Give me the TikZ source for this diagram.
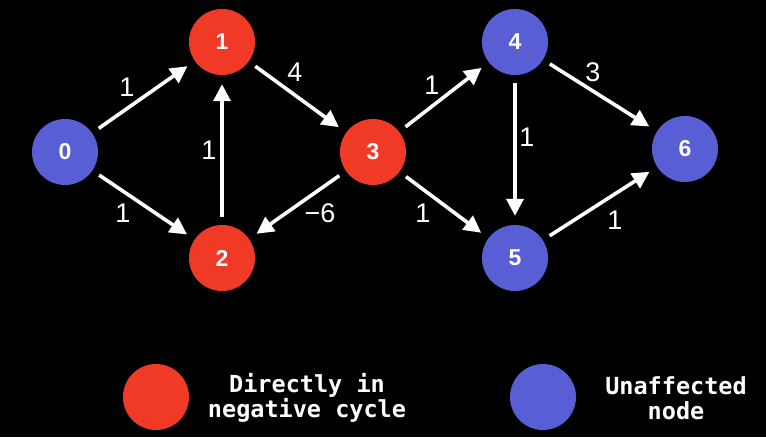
\documentclass[tikz,border=0pt]{standalone}
\usepackage{fontspec}
\setmainfont{Liberation Sans}
\newfontfamily\monob{DejaVu Sans Mono}
\usetikzlibrary{arrows.meta}
\definecolor{nred}{RGB}{240,58,38}
\definecolor{nblue}{RGB}{88,94,212}
\begin{document}
\begin{tikzpicture}[x=1pt,y=-1pt,
  vert/.style={circle,minimum size=66pt,inner sep=0pt,text=white,font=\fontsize{23}{23}\selectfont\bfseries},
  rednode/.style={vert,fill=nred},
  bluenode/.style={vert,fill=nblue},
  edge/.style={draw=white,line width=3.6pt,-{Triangle[length=17pt,width=17pt]},shorten <=8pt,shorten >=9pt},
  wlab/.style={text=white,font=\fontsize{27}{27}\selectfont,inner sep=0pt},
  legtext/.style={text=white,font=\monob\bfseries\fontsize{23.5}{25}\selectfont,align=center,inner sep=0pt}]
\fill[black] (0,0) rectangle (766,437);
\useasboundingbox (0,0) rectangle (766,437);

\node[bluenode] (n0) at (65,152) {0};
\node[rednode]  (n1) at (222,42) {1};
\node[rednode]  (n2) at (222,258) {2};
\node[rednode]  (n3) at (373,152) {3};
\node[bluenode] (n4) at (515,42) {4};
\node[bluenode] (n5) at (515,258) {5};
\node[bluenode] (n6) at (685,149) {6};

\draw[edge] (n0) -- (n1);
\draw[edge] (n0) -- (n2);
\draw[edge] (n1) -- (n3);
\draw[edge] (n2) -- (n1);
\draw[edge] (n3) -- (n2);
\draw[edge] (n3) -- (n4);
\draw[edge] (n3) -- (n5);
\draw[edge] (n4) -- (n5);
\draw[edge] (n4) -- (n6);
\draw[edge] (n5) -- (n6);

\node[wlab] (l01) at (127,87) {1};
\node[wlab] (l02) at (123,213) {1};
\node[wlab] (l13) at (295,72) {4};
\node[wlab] (l21) at (209,150) {1};
\node[wlab] (l32) at (320,213) {−6};
\node[wlab] (l34) at (432,85) {1};
\node[wlab] (l35) at (423,213) {1};
\node[wlab] (l45) at (527,137) {1};
\node[wlab] (l46) at (593,72) {3};
\node[wlab] (l56) at (615,220) {1};

\node[circle,fill=nred,minimum size=66pt,inner sep=0pt] (legr) at (156,397) {};
\node[circle,fill=nblue,minimum size=66pt,inner sep=0pt] (legb) at (543,397) {};
\node[legtext] (legrt) at (307,398) {Directly in\\negative cycle};
\node[legtext] (legbt) at (676,398) {Unaffected\\node};
\end{tikzpicture}
\end{document}
